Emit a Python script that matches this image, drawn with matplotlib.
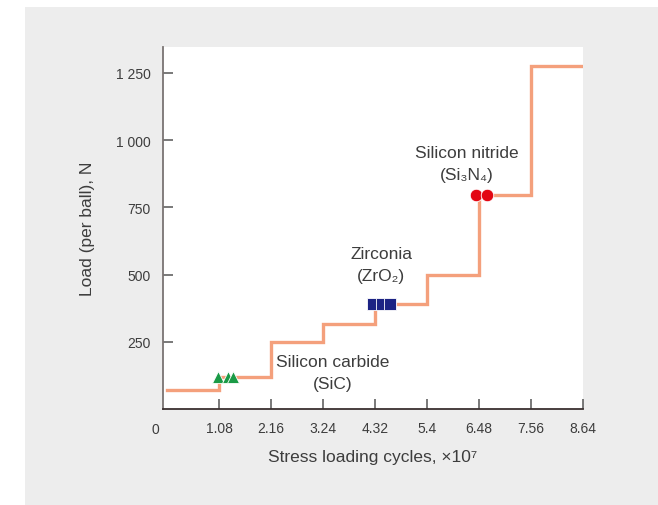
import matplotlib
matplotlib.use("Agg")
import matplotlib.pyplot as plt
from matplotlib import font_manager as fm
from matplotlib.patches import Rectangle
import matplotlib.transforms as mtransforms

# ---- data ----
step_x = [0, 1.08, 2.16, 3.24, 4.32, 5.4, 6.48, 7.56, 8.64]
step_load = [70, 120, 250, 315, 390, 500, 795, 1275, 1275]

sic_x = [1.05, 1.26, 1.36]
sic_y = [120, 120, 120]
zro2_x = [4.27, 4.46, 4.63]
zro2_y = [392, 392, 392]
si3n4_x = [6.42, 6.65]
si3n4_y = [795, 795]

x_ticks = [1.08, 2.16, 3.24, 4.32, 5.4, 6.48, 7.56, 8.64]
x_tick_labels = ["1.08", "2.16", "3.24", "4.32", "5.4", "6.48", "7.56", "8.64"]
y_ticks = [250, 500, 750, 1000, 1250]
y_tick_labels = ["250", "500", "750", "1 000", "1 250"]

names = {f.name for f in fm.fontManager.ttflist}
base = "Liberation Sans Narrow" if "Liberation Sans Narrow" in names else "Liberation Sans"
fam = [base, "DejaVu Sans"]
plt.rcParams["font.family"] = fam

txt = "#3d3d3d"
fig = plt.figure(figsize=(6.58, 5.06), dpi=100)
fig.patch.set_facecolor("white")
fig.patches.append(Rectangle((25 / 658, 0), 1, (506 - 8) / 506, transform=fig.transFigure,
                             facecolor="#ededed", edgecolor="none", zorder=-10))

ax = fig.add_axes([163.3 / 658, (506 - 410) / 506, (582.7 - 163.3) / 658, (410 - 48.3) / 506])
ax.set_facecolor("white")
ax.set_xlim(-0.085, 8.64)
ax.set_ylim(0, 1345)

ax.step(step_x, step_load, where="post", color="#f4a07c", lw=2.4, zorder=2, solid_joinstyle="miter")

ax.plot(sic_x, sic_y, linestyle="none", marker="^", ms=9, color="#1a9a46",
        markeredgecolor="white", markeredgewidth=0.6, zorder=3)
ax.plot(zro2_x, zro2_y, linestyle="none", marker="s", ms=9, color="#1c2384",
        markeredgecolor="white", markeredgewidth=0.6, zorder=3)
ax.plot(si3n4_x, si3n4_y, linestyle="none", marker="o", ms=9, color="#e30613",
        markeredgecolor="white", markeredgewidth=0.6, zorder=3)

for s in ["top", "right"]:
    ax.spines[s].set_visible(False)
ax.spines["left"].set_color("#7a7473")
ax.spines["bottom"].set_color("#3a3030")
ax.spines["left"].set_linewidth(1.3)
ax.spines["bottom"].set_linewidth(1.3)

ax.set_xticks(x_ticks)
ax.set_xticklabels(x_tick_labels)
ax.set_yticks(y_ticks)
ax.set_yticklabels(y_tick_labels)
ax.tick_params(axis="both", direction="in", length=7, width=1.1, color="#555555",
               labelsize=10, labelcolor=txt)
ax.tick_params(axis="x", pad=9)
ax.tick_params(axis="y", pad=9)

trans = mtransforms.blended_transform_factory(ax.transData, ax.transAxes)
ax.text(-0.26, -0.055, "0", transform=trans, ha="center", va="center", fontsize=10, color=txt)

ax.set_xlabel("Stress loading cycles, \u00d710\u2077", fontsize=12.5, color=txt, labelpad=10)
ax.set_ylabel("Load (per ball), N", fontsize=12.5, color=txt, labelpad=15)

ax.text(3.43, 136, "Silicon carbide\n(SiC)", ha="center", va="center", fontsize=12.5,
        color=txt, linespacing=1.6)
ax.text(4.45, 538, "Zirconia\n(ZrO\u2082)", ha="center", va="center", fontsize=12.5,
        color=txt, linespacing=1.6)
ax.text(6.23, 913, "Silicon nitride\n(Si\u2083N\u2084)", ha="center", va="center", fontsize=12.5,
        color=txt, linespacing=1.6)

fig.savefig("out.png", dpi=100, facecolor=fig.get_facecolor())
